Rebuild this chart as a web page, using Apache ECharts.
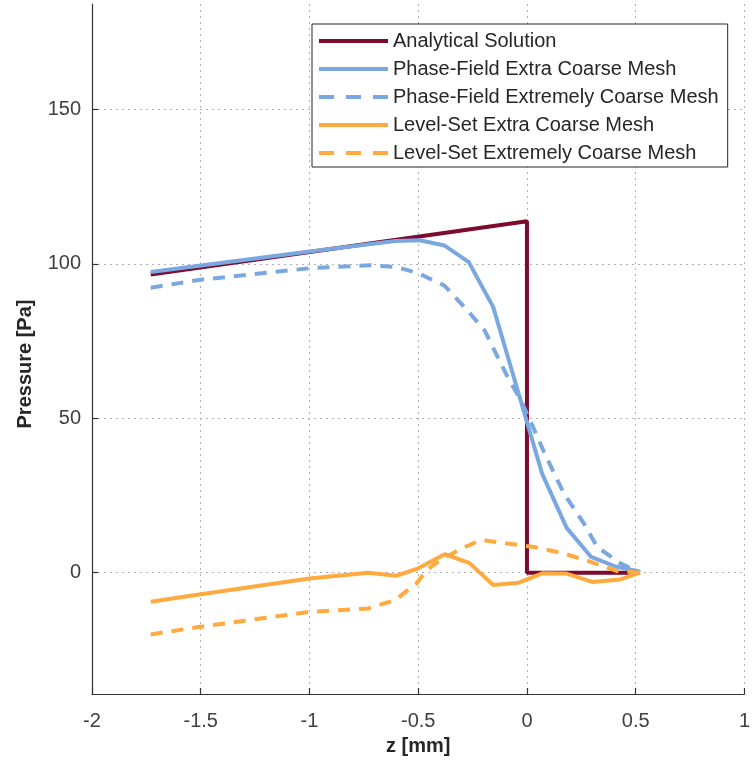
<!DOCTYPE html>
<html>
<head>
<meta charset="utf-8">
<script src="https://cdn.jsdelivr.net/npm/echarts@6/dist/echarts.min.js"></script>
<style>
html,body{margin:0;padding:0;background:#fff;}
#chart{width:753px;height:771px;}
</style>
</head>
<body>
<div id="chart"></div>
<script>
// ---- data ----
const seriesNames = [
  'Analytical Solution',
  'Phase-Field Extra Coarse Mesh',
  'Phase-Field Extremely Coarse Mesh',
  'Level-Set Extra Coarse Mesh',
  'Level-Set Extremely Coarse Mesh'
];
const xTicks = [-2, -1.5, -1, -0.5, 0, 0.5, 1];
const yTicks = [0, 50, 100, 150];

const analyticalZ = [-1.73, 0, 0, 0.52];
const analyticalP = [96.6, 113.8, 0, 0];

const pfExtraZ = [-1.73, -1.0, -0.605, -0.4925, -0.38, -0.2675, -0.155, -0.0425, 0.07, 0.1825, 0.295, 0.4075, 0.52];
const pfExtraP = [97.4, 104.0, 107.4, 107.7, 106.0, 100.6, 86.0, 59.0, 32.0, 14.5, 5.1, 2.0, 0.3];

const pfExtremeZ = [-1.73, -1.5, -1.0, -0.72, -0.6, -0.5, -0.38, -0.287, -0.195, -0.089, -0.028, 0.01, 0.079, 0.17, 0.262, 0.323, 0.43, 0.52];
const pfExtremeP = [92.3, 94.9, 98.6, 99.6, 99.0, 97.0, 93.0, 86.0, 78.5, 63.4, 55.8, 50.0, 39.0, 25.6, 15.9, 8.3, 3.0, 0.0];

const lsExtraZ = [-1.73, -1.5, -1.0, -0.73, -0.6, -0.5, -0.378, -0.264, -0.155, -0.04, 0.07, 0.1825, 0.3, 0.43, 0.52];
const lsExtraP = [-9.4, -7.0, -1.9, 0.0, -1.0, 1.4, 6.0, 3.1, -4.0, -3.3, -0.2, -0.3, -3.0, -2.2, 0.0];

const lsExtremeZ = [-1.73, -1.5, -1.0, -0.73, -0.607, -0.508, -0.462, -0.409, -0.302, -0.21, -0.104, 0.033, 0.17, 0.293, 0.415, 0.52];
const lsExtremeP = [-20.0, -17.5, -12.7, -11.6, -8.9, -3.5, 0.8, 3.5, 7.8, 10.6, 9.6, 8.3, 6.2, 3.5, 0.5, 0.0];

const colors = ['#7E0A2E', '#7BA7E1', '#7BA7E1', '#FFA93E', '#FFA93E'];
const dashed = [false, false, true, false, true];

function pairs(xs, ys) { return xs.map((x, i) => [x, ys[i]]); }
const allData = [
  pairs(analyticalZ, analyticalP),
  pairs(pfExtraZ, pfExtraP),
  pairs(pfExtremeZ, pfExtremeP),
  pairs(lsExtraZ, lsExtraP),
  pairs(lsExtremeZ, lsExtremeP)
];

const FONT = '"Liberation Sans", Arial, Helvetica, sans-serif';
const chart = echarts.init(document.getElementById('chart'), null, {renderer: 'canvas'});

const option = {
  backgroundColor: '#ffffff',
  animation: false,
  grid: {left: 92, right: 5, top: 4, bottom: 77, containLabel: false},
  xAxis: {
    type: 'value',
    min: -2, max: 1, interval: 0.5,
    name: 'z [mm]',
    nameLocation: 'middle',
    nameGap: 42,
    nameTextStyle: {fontFamily: FONT, fontSize: 20, fontWeight: 'bold', color: '#262626'},
    axisLine: {show: true, onZero: false, lineStyle: {color: '#333333', width: 1.2}},
    axisTick: {show: true, inside: true, length: 6, lineStyle: {color: '#333333', width: 1.2}},
    axisLabel: {fontFamily: FONT, fontSize: 20, color: '#404040', margin: 17},
    splitLine: {show: true, lineStyle: {color: '#b0b0b0', type: [2, 4], width: 1}}
  },
  yAxis: {
    type: 'value',
    min: -39.3, max: 184.2,
    name: 'Pressure [Pa]',
    nameLocation: 'middle',
    nameGap: 57,
    nameTextStyle: {fontFamily: FONT, fontSize: 20, fontWeight: 'bold', color: '#262626', padding: [0, 30, 0, 0]},
    axisLine: {show: true, onZero: false, lineStyle: {color: '#333333', width: 1.2}},
    axisTick: {show: true, inside: true, length: 6, customValues: yTicks, lineStyle: {color: '#333333', width: 1.2}},
    axisLabel: {fontFamily: FONT, fontSize: 20, color: '#404040', margin: 11, customValues: yTicks},
    splitLine: {show: true, lineStyle: {color: '#b0b0b0', type: [2, 4], width: 1}}
  },
  legend: {
    orient: 'vertical',
    left: 312, top: 24,
    padding: [7, 9, 4, 5],
    backgroundColor: '#ffffff',
    borderColor: '#262626',
    borderWidth: 1,
    itemWidth: 69,
    itemHeight: 14,
    itemGap: 8,
    itemStyle: {opacity: 0},
    lineStyle: {width: 4},
    textStyle: {fontFamily: FONT, fontSize: 20, color: '#262626', lineHeight: 20},
    data: seriesNames.map((n, i) => dashed[i]
      ? {name: n, lineStyle: {width: 4, type: [15, 12]}}
      : {name: n})
  },
  series: allData.map((d, i) => ({
    name: seriesNames[i],
    type: 'line',
    data: d,
    symbol: 'none',
    lineStyle: {color: colors[i], width: 4, type: dashed[i] ? [12, 9] : 'solid'},
    itemStyle: {color: colors[i]},
    z: 2 + i
  }))
};
chart.setOption(option);
</script>
</body>
</html>
